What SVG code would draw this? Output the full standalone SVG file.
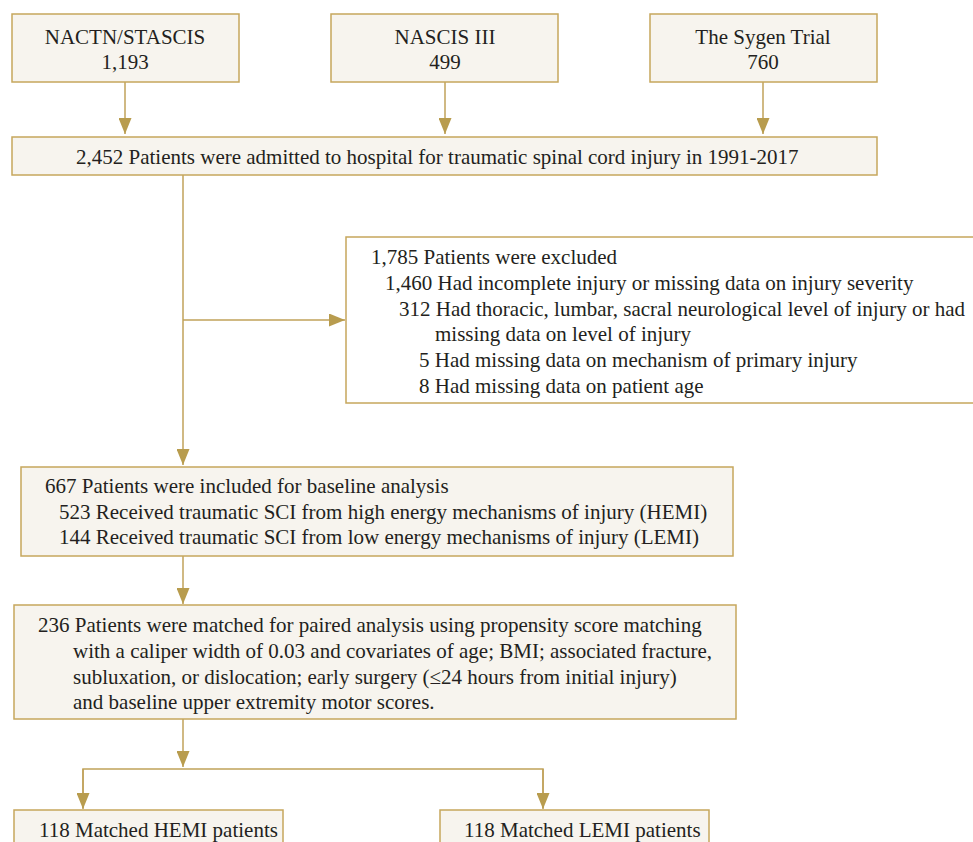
<svg xmlns="http://www.w3.org/2000/svg" width="973" height="842" viewBox="0 0 973 842">
<style>
.box{fill:#f7f4ee;stroke:#c6a75c;stroke-width:1.5}
.wbox{fill:#ffffff;stroke:#c6a75c;stroke-width:1.5}
.t{font-family:"Liberation Serif","Times New Roman",serif;font-size:21px;fill:#231f20}
.c{text-anchor:middle}
.ln{fill:none;stroke:#c0a25a;stroke-width:1.5}
</style>
<defs>
<marker id="ah" markerWidth="16" markerHeight="13" refX="16" refY="6.5" orient="auto" markerUnits="userSpaceOnUse" viewBox="0 0 16 13">
<path d="M0,0 L16,6.5 L0,13 Z" fill="#b89c4e"/>
</marker>
</defs>
<rect width="973" height="842" fill="#ffffff"/>
<g id="connectors">
<line class="ln" x1="125" y1="82" x2="125" y2="134" marker-end="url(#ah)"/>
<line class="ln" x1="445" y1="82" x2="445" y2="134" marker-end="url(#ah)"/>
<line class="ln" x1="763" y1="82" x2="763" y2="134" marker-end="url(#ah)"/>
<line class="ln" x1="183" y1="175" x2="183" y2="465" marker-end="url(#ah)"/>
<line class="ln" x1="183" y1="320" x2="345" y2="320" marker-end="url(#ah)"/>
<line class="ln" x1="183" y1="556" x2="183" y2="604" marker-end="url(#ah)"/>
<line class="ln" x1="183" y1="719" x2="183" y2="767" marker-end="url(#ah)"/>
<polyline class="ln" points="83,808 83,769 543,769 543,808"/>
<line class="ln" x1="83" y1="769" x2="83" y2="809" marker-end="url(#ah)"/>
<line class="ln" x1="543" y1="769" x2="543" y2="809" marker-end="url(#ah)"/>
</g>
<g id="n1">
<rect class="box" x="12" y="14" width="227" height="68"/>
<text class="t c" x="125" y="44">NACTN/STASCIS</text>
<text class="t c" x="125" y="69">1,193</text>
</g>
<g id="n2">
<rect class="box" x="331" y="14" width="227" height="68"/>
<text class="t c" x="445" y="44">NASCIS III</text>
<text class="t c" x="445" y="69">499</text>
</g>
<g id="n3">
<rect class="box" x="650" y="14" width="227" height="68"/>
<text class="t c" x="763" y="44">The Sygen Trial</text>
<text class="t c" x="763" y="69">760</text>
</g>
<g id="n4">
<rect class="box" x="12" y="137" width="865" height="38"/>
<text class="t" x="76" y="164">2,452 Patients were admitted to hospital for traumatic spinal cord injury in 1991-2017</text>
</g>
<g id="n5">
<rect class="wbox" x="346" y="237" width="640" height="166"/>
<text class="t" x="371" y="264">1,785 Patients were excluded</text>
<text class="t" x="385" y="290">1,460 Had incomplete injury or missing data on injury severity</text>
<text class="t" x="399" y="316">312 Had thoracic, lumbar, sacral neurological level of injury or had</text>
<text class="t" x="435" y="341">missing data on level of injury</text>
<text class="t" x="419" y="367">5 Had missing data on mechanism of primary injury</text>
<text class="t" x="419" y="393">8 Had missing data on patient age</text>
</g>
<g id="n6">
<rect class="box" x="21" y="467" width="712" height="89"/>
<text class="t" x="45" y="493">667 Patients were included for baseline analysis</text>
<text class="t" x="59" y="519">523 Received traumatic SCI from high energy mechanisms of injury (HEMI)</text>
<text class="t" x="59" y="544">144 Received traumatic SCI from low energy mechanisms of injury (LEMI)</text>
</g>
<g id="n7">
<rect class="box" x="14" y="605" width="722" height="114"/>
<text class="t" x="38" y="632">236 Patients were matched for paired analysis using propensity score matching</text>
<text class="t" x="73" y="658">with a caliper width of 0.03 and covariates of age; BMI; associated fracture,</text>
<text class="t" x="73" y="684">subluxation, or dislocation; early surgery (≤24 hours from initial injury)</text>
<text class="t" x="73" y="709">and baseline upper extremity motor scores.</text>
</g>
<g id="n8">
<rect class="box" x="14" y="810" width="269" height="50"/>
<text class="t" x="39" y="837">118 Matched HEMI patients</text>
</g>
<g id="n9">
<rect class="box" x="440" y="810" width="269" height="50"/>
<text class="t" x="464" y="837">118 Matched LEMI patients</text>
</g>
</svg>
